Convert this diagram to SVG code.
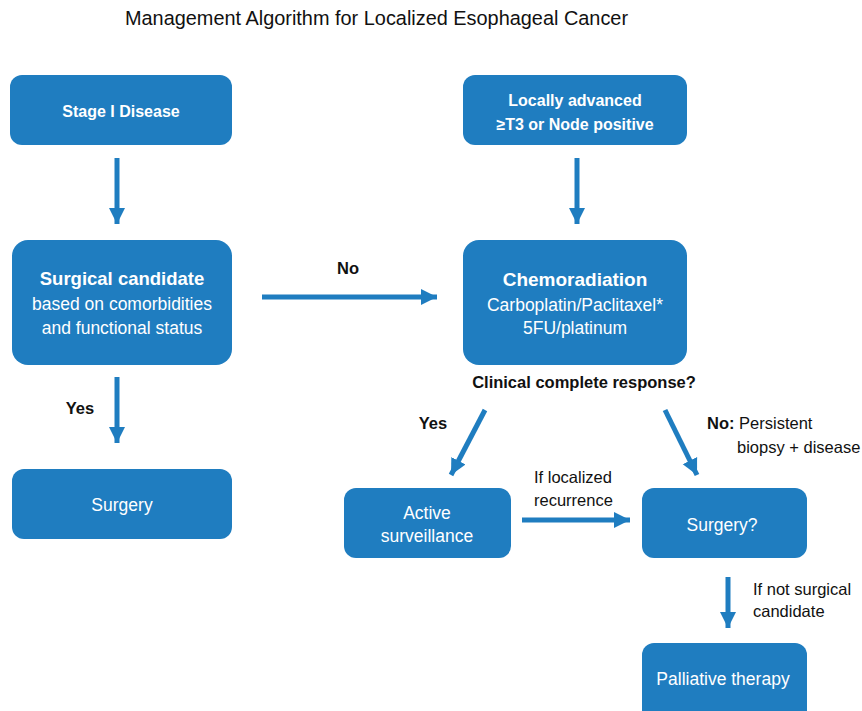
<svg xmlns="http://www.w3.org/2000/svg" width="862" height="711" viewBox="0 0 862 711">
<style>
.box{fill:#1F7DC0;}
.t{font-family:"Liberation Sans",Arial,sans-serif;fill:#fff;text-anchor:middle;}
.b{font-weight:bold;}
.lbl{font-family:"Liberation Sans",Arial,sans-serif;fill:#111;font-size:16.5px;}
.con{stroke:#1F7DC0;stroke-width:5;fill:none;marker-end:url(#ah);}
</style>
<defs>
<marker id="ah" markerUnits="userSpaceOnUse" markerWidth="18" markerHeight="18" viewBox="0 0 18 18" refX="16" refY="9" orient="auto">
<path d="M0,1 L16,9 L0,17 Z" fill="#1F7DC0"/>
</marker>
</defs>
<rect width="862" height="711" fill="#fff"/>
<text x="376.5" y="25" font-family="Liberation Sans,Arial,sans-serif" font-size="19.9" fill="#111" text-anchor="middle">Management Algorithm for Localized Esophageal Cancer</text>

<g id="connectors">
<line class="con" x1="117" y1="158" x2="117" y2="224"/>
<line class="con" x1="577" y1="158" x2="577" y2="224"/>
<line class="con" x1="262" y1="297" x2="437" y2="297"/>
<line class="con" x1="117" y1="377" x2="117" y2="443"/>
<line class="con" x1="485" y1="410" x2="451" y2="475"/>
<line class="con" x1="665" y1="410" x2="697" y2="475"/>
<line class="con" x1="522" y1="520" x2="630" y2="520"/>
<line class="con" x1="728" y1="577" x2="728" y2="628"/>
<text class="lbl b" x="348" y="274" text-anchor="middle">No</text>
<text class="lbl b" x="80" y="414" text-anchor="middle">Yes</text>
<text class="lbl b" x="433" y="429" text-anchor="middle">Yes</text>
<text class="lbl" x="707" y="429"><tspan font-weight="bold">No:</tspan> Persistent</text>
<text class="lbl" x="737" y="453">biopsy + disease</text>
<text class="lbl" x="534" y="483">If localized</text>
<text class="lbl" x="534" y="506">recurrence</text>
<text class="lbl" x="753" y="595">If not surgical</text>
<text class="lbl" x="753" y="617">candidate</text>
<text class="lbl b" x="584" y="388" text-anchor="middle">Clinical complete response?</text>
</g>

<g id="stage1">
<rect class="box" x="10" y="75" width="222" height="70" rx="12"/>
<text class="t b" x="121" y="117" font-size="16">Stage I Disease</text>
</g>
<g id="locally-advanced">
<rect class="box" x="463" y="75" width="224" height="70" rx="12"/>
<text class="t b" x="575" y="106" font-size="16">Locally advanced</text>
<text class="t b" x="575" y="130" font-size="16">≥T3 or Node positive</text>
</g>
<g id="surgical-candidate">
<rect class="box" x="12" y="240" width="220" height="125" rx="16"/>
<text class="t b" x="122" y="285" font-size="18.5">Surgical candidate</text>
<text class="t" x="122" y="310" font-size="17.5">based on comorbidities</text>
<text class="t" x="122" y="334" font-size="17.5">and functional status</text>
</g>
<g id="chemoradiation">
<rect class="box" x="463" y="240" width="224" height="125" rx="16"/>
<text class="t b" x="575" y="286" font-size="19">Chemoradiation</text>
<text class="t" x="575" y="311" font-size="17.5">Carboplatin/Paclitaxel*</text>
<text class="t" x="575" y="334" font-size="17.5">5FU/platinum</text>
</g>
<g id="surgery">
<rect class="box" x="12" y="469" width="220" height="70" rx="12"/>
<text class="t" x="122" y="511" font-size="17.5">Surgery</text>
</g>
<g id="active-surveillance">
<rect class="box" x="344" y="488" width="167" height="70" rx="12"/>
<text class="t" x="427" y="519" font-size="17.5">Active</text>
<text class="t" x="427" y="542" font-size="17.5">surveillance</text>
</g>
<g id="surgery-q">
<rect class="box" x="642" y="488" width="165" height="70" rx="12"/>
<text class="t" x="722" y="531" font-size="17.5">Surgery?</text>
</g>
<g id="palliative">
<rect class="box" x="642" y="643" width="165" height="80" rx="12"/>
<text class="t" x="723" y="685" font-size="17.5">Palliative therapy</text>
</g>
</svg>
